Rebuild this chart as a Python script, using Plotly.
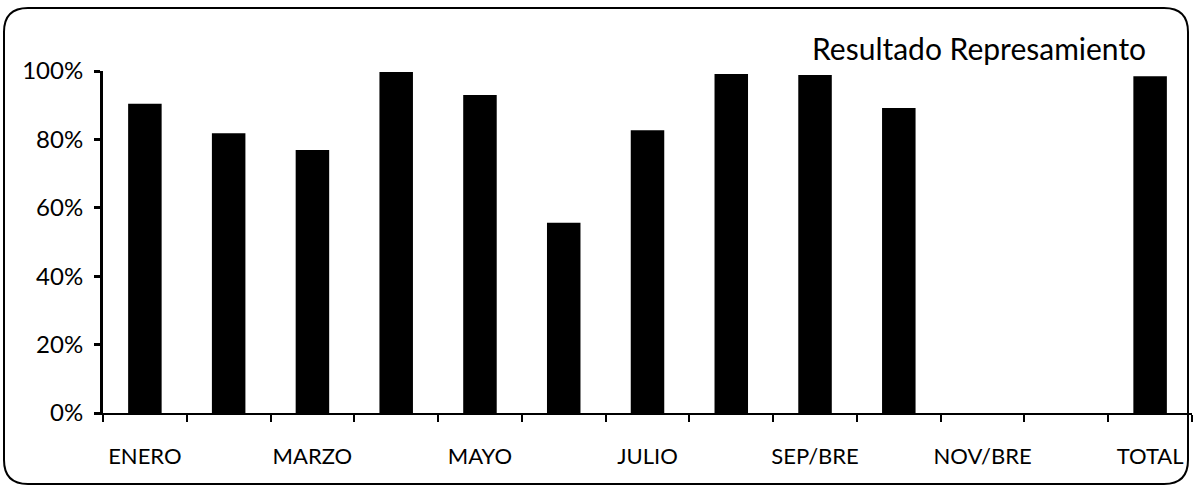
import plotly.graph_objects as go

categories = ["ENERO", "FEBRERO", "MARZO", "ABRIL", "MAYO", "JUNIO", "JULIO",
              "AGOSTO", "SEP/BRE", "OCT/BRE", "NOV/BRE", "DIC/BRE", "TOTAL"]
values = [0.904, 0.818, 0.769, 0.997, 0.930, 0.556, 0.827, 0.991, 0.988, 0.892, 0.0, 0.0, 0.985]
shown_labels = ["ENERO", "", "MARZO", "", "MAYO", "", "JULIO", "", "SEP/BRE", "", "NOV/BRE", "", "TOTAL"]
y_ticks = [0, 0.2, 0.4, 0.6, 0.8, 1.0]
y_tick_text = ["0%", "20%", "40%", "60%", "80%", "100%"]
title_text = "Resultado Represamiento"

FONT = "Lato, 'Open Sans', sans-serif"

W, H = 1193, 488
ML, MR, MT, MB = 103, 1, 71, 75

fig = go.Figure(go.Bar(x=categories, y=values, marker=dict(color="black", line=dict(width=0)),
                       width=0.4, hoverinfo="x+y"))

fig.update_layout(
    width=W, height=H,
    margin=dict(l=ML, r=MR, t=MT, b=MB, autoexpand=False),
    paper_bgcolor="white", plot_bgcolor="white",
    showlegend=False,
    font=dict(family=FONT, color="black", size=22),
)
fig.update_xaxes(
    type="category", tickmode="array", tickvals=categories, ticktext=shown_labels,
    tickson="boundaries", ticks="outside", ticklen=7, tickwidth=1.5, tickcolor="black",
    showline=True, linecolor="black", linewidth=2, showgrid=False,
    tickfont=dict(family=FONT, size=22, color="black"), ticklabelstandoff=23,
    tickangle=0, automargin=False, range=[-0.5, 12.5],
)
fig.update_yaxes(
    range=[0, 1.0], tickmode="array", tickvals=y_ticks, ticktext=y_tick_text,
    ticks="outside", ticklen=6, tickwidth=2.5, tickcolor="black",
    showline=True, linecolor="black", linewidth=3, showgrid=False, zeroline=False,
    tickfont=dict(family=FONT, size=24, color="black"), ticklabelstandoff=6,
    automargin=False,
)

# rounded chart-area frame (pixel geometry converted to paper coordinates)
plot_w = W - ML - MR
plot_h = H - MT - MB
def px(x): return (x - ML) / plot_w
def py(y): return (H - MB - y) / plot_h

x0, y0, x1, y1, r = 4, 8, 1188, 484, 24
path = (f"M {px(x0+r)},{py(y0)} L {px(x1-r)},{py(y0)} Q {px(x1)},{py(y0)} {px(x1)},{py(y0+r)} "
        f"L {px(x1)},{py(y1-r)} Q {px(x1)},{py(y1)} {px(x1-r)},{py(y1)} L {px(x0+r)},{py(y1)} "
        f"Q {px(x0)},{py(y1)} {px(x0)},{py(y1-r)} L {px(x0)},{py(y0+r)} Q {px(x0)},{py(y0)} {px(x0+r)},{py(y0)} Z")
fig.add_shape(type="path", path=path, xref="paper", yref="paper",
              line=dict(color="black", width=2), fillcolor="rgba(0,0,0,0)", layer="above")

fig.add_annotation(text=title_text, xref="paper", yref="paper", x=px(979), y=py(48),
                   xanchor="center", yanchor="middle", showarrow=False,
                   font=dict(family=FONT, size=30, color="black"))

fig.write_html("out.html", config={"displayModeBar": False},
               post_script="document.body.style.margin='0';document.body.style.overflow='hidden';")
